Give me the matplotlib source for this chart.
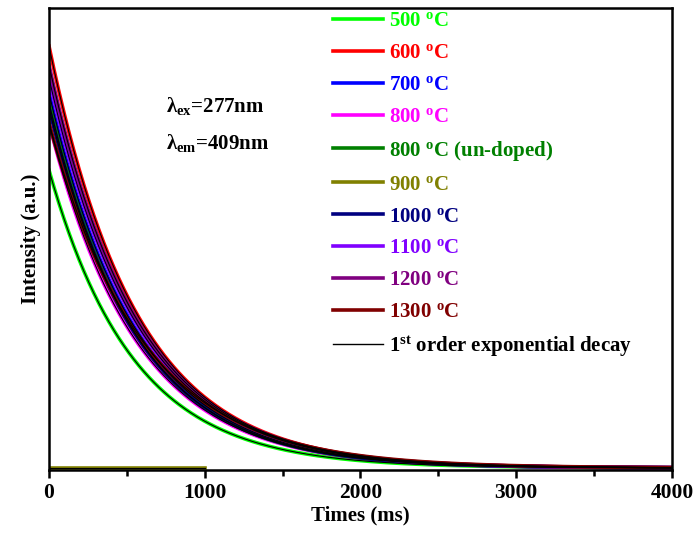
import numpy as np
import matplotlib
matplotlib.use("Agg")
import matplotlib.pyplot as plt

plt.rcParams['font.family'] = ['Liberation Serif', 'DejaVu Serif']
plt.rcParams['font.weight'] = 'bold'
plt.rcParams['mathtext.fontset'] = 'custom'
plt.rcParams['mathtext.rm'] = 'Liberation Serif:bold'
plt.rcParams['mathtext.bf'] = 'Liberation Serif:bold'
plt.rcParams['mathtext.it'] = 'Liberation Serif:bold'

# samples and their colours
labels = ['500', '600', '700', '800', '800 (un-doped)', '900',
          '1000', '1100', '1200', '1300']
colors = ['#00ff00', '#ff0000', '#0000ff', '#ff00ff', '#008000', '#808000',
          '#000080', '#8000ff', '#800080', '#800000']
# fitted amplitude (a.u.) and lifetime (ms)
amplitude = [2980, 4220, 3750, 3450, 3650, 0, 3600, 3900, 4030, 3450]
lifetime = [540, 560, 560, 560, 555, 1, 560, 565, 565, 600]
t_end = [4000, 4000, 4000, 4000, 4000, 1000, 4000, 4000, 4000, 4000]

fig = plt.figure(figsize=(6.94, 5.35), dpi=100)
ax = fig.add_axes([0.0706, 0.1215, 0.8977, 0.8635])

for lab, c, a, tau, te in zip(labels, colors, amplitude, lifetime, t_end):
    t = np.linspace(0, te, 500)
    y = a * np.exp(-t / tau)
    if '(' in lab:
        txt = lab.replace(' (', r' $^{\rm o}$C (')
    else:
        txt = lab + r' $^{\rm o}$C'
    ax.plot(t, y, color=c, lw=2.6, label=txt)
# fit lines
for a, tau, te in zip(amplitude, lifetime, t_end):
    t = np.linspace(0, te, 500)
    ax.plot(t, a * np.exp(-t / tau), color='black', lw=0.8)
ax.plot([], [], color='black', lw=1.0, label=r'1$^{\rm st}$ order exponential decay')

ax.set_xlim(0, 4000)
ax.set_ylim(-20, 4600)
ax.set_xticks([0, 1000, 2000, 3000, 4000])
ax.set_xticks([500, 1500, 2500, 3500], minor=True)
ax.set_yticks([])
ax.tick_params(axis='x', which='major', direction='out', length=6, width=1.8,
               labelsize=15.5, top=False)
ax.tick_params(axis='x', which='minor', direction='out', length=4, width=1.8, top=False)
for s in ax.spines.values():
    s.set_linewidth(1.8)

ax.set_xlabel('Times (ms)', fontsize=15, fontweight='bold', labelpad=2)
ax.set_ylabel('Intensity (a.u.)', fontsize=15, fontweight='bold', labelpad=6)

ax.text(0.188, 0.775, r'λ$_{\rm ex}$=277nm', transform=ax.transAxes, fontsize=15)
ax.text(0.188, 0.695, r'λ$_{\rm em}$=409nm', transform=ax.transAxes, fontsize=15)

leg = ax.legend(loc='upper left', bbox_to_anchor=(0.435, 1.02), frameon=False,
                fontsize=15, handlelength=2.4, handletextpad=0.3, labelspacing=0.57,
                borderaxespad=0.2)
for txt, line in zip(leg.get_texts(), leg.get_lines()):
    txt.set_color(line.get_color())

fig.savefig('out.png', dpi=100)
